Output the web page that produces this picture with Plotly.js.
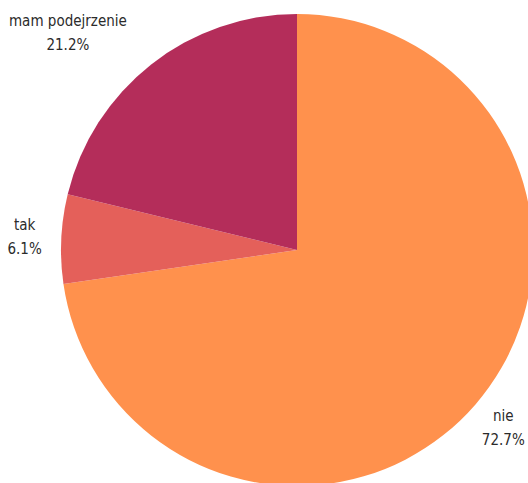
<!DOCTYPE html>
<html>
<head>
<meta charset="utf-8">
<script src="https://cdn.plot.ly/plotly-3.0.1.min.js"></script>
<style>
html,body{margin:0;padding:0;width:528px;height:483px;overflow:hidden;background:#fff;}
#chart{position:absolute;left:0;top:0;width:594px;height:500px;}
</style>
</head>
<body>
<div id="chart"></div>
<script>
var labels = ["nie", "tak", "mam podejrzenie"];
var values = [72.7, 6.1, 21.2];
var colors = ["#FF914D", "#E4605A", "#B42D5A"];

Plotly.newPlot("chart", [{
  type: "pie",
  labels: labels,
  values: values,
  sort: false,
  direction: "clockwise",
  rotation: 0,
  marker: {colors: colors, line: {width: 0}},
  textinfo: "label+percent",
  texttemplate: "%{label}<br>%{percent:.1%}",
  textposition: "outside",
  automargin: false,
  outsidetextfont: {family: "DejaVu Sans Condensed, Roboto, sans-serif", size: 15, color: "#2b2b2b"},
  hoverinfo: "none"
}], {
  width: 594,
  height: 500,
  margin: {l: 61, r: 61, t: 14, b: 14},
  showlegend: false,
  paper_bgcolor: "#ffffff"
}, {displayModeBar: false, staticPlot: true}).then(function (gd) {
  // widen line spacing of the two-line labels and nudge them like the reference
  var shifts = [[-3, 13], [-10, -4], [-15, -22]];
  var groups = gd.querySelectorAll("g.slicetext");
  groups.forEach(function (g, i) {
    var tsp = g.querySelectorAll("tspan.line");
    if (tsp.length > 1) tsp[1].setAttribute("dy", "1.6em");
    var s = shifts[i] || [0, 0];
    var t = g.querySelector("text");
    var prev = t.getAttribute("transform") || "";
    t.setAttribute("transform", "translate(" + s[0] + "," + s[1] + ") " + prev);
  });
});
</script>
</body>
</html>
